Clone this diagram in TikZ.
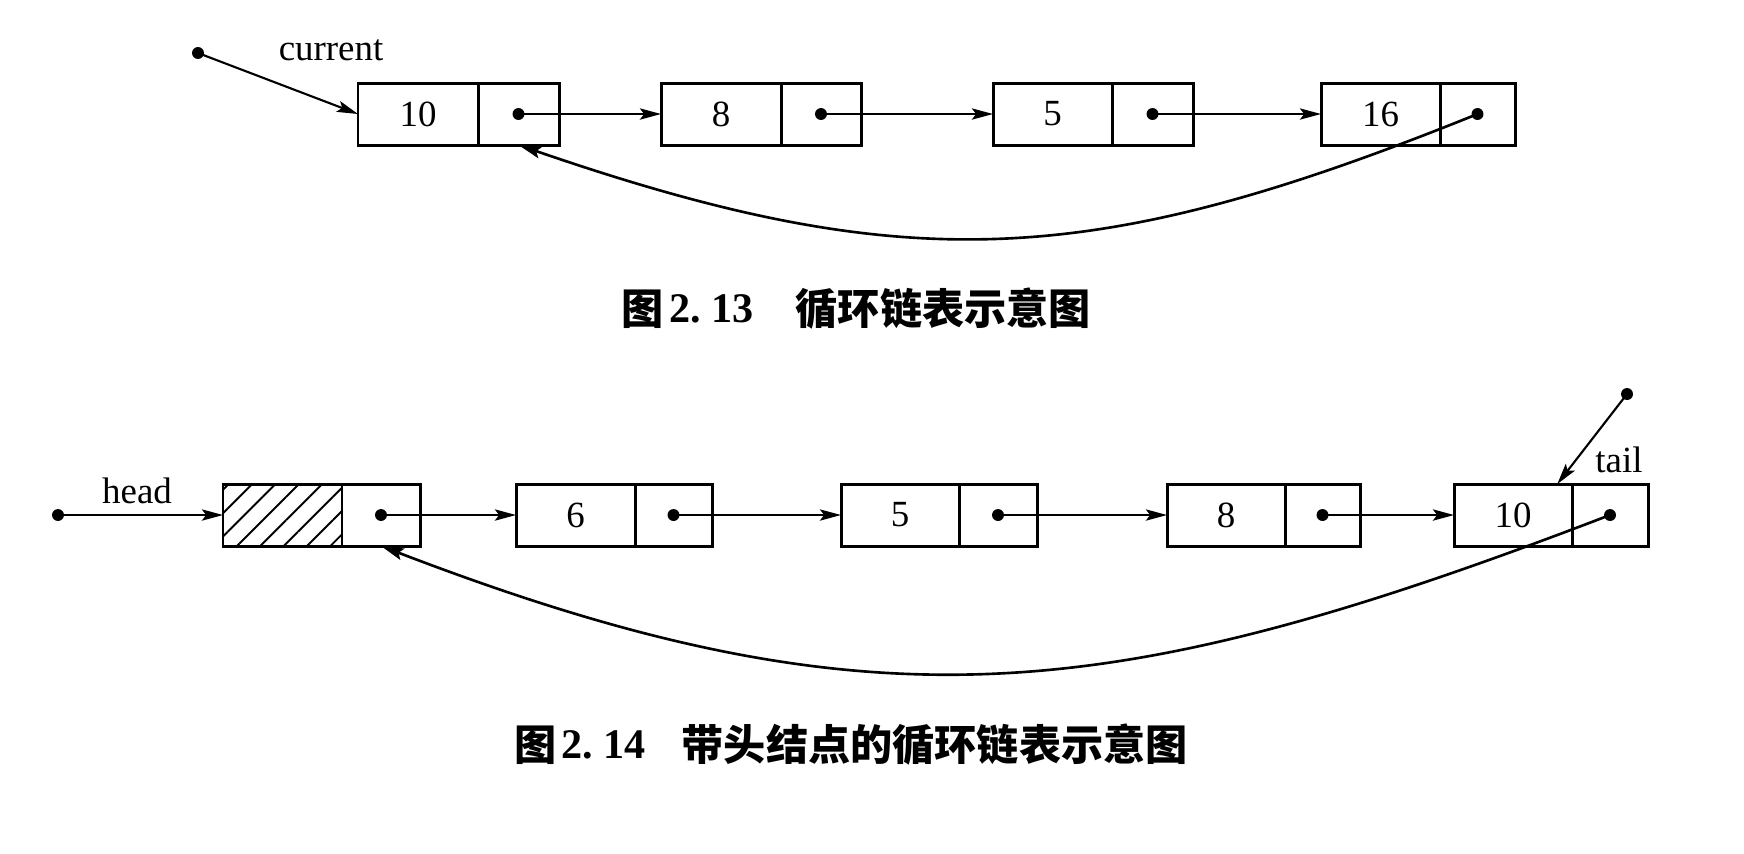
\documentclass[tikz,border=0pt]{standalone}
\usepackage{fontspec}
\setmainfont{Liberation Serif}
\newfontfamily\cjk{Noto Sans CJK SC}
\usetikzlibrary{arrows.meta,patterns.meta}
\tikzset{
  cellbox/.style={draw, line width=0.85pt, minimum height=0.62cm, inner sep=0pt, outer sep=0pt, font=\fontsize{10.5pt}{12pt}\selectfont},
  arr/.style={line width=0.6pt, -{Stealth[length=6pt,width=3.2pt,inset=1.2pt]}},
  backarc/.style={line width=0.75pt, -{Stealth[length=6.5pt,width=3.4pt,inset=1.2pt]}},
  ptrdot/.style={fill=black},
  lbl/.style={font=\fontsize{10.5pt}{12pt}\selectfont, inner sep=0pt, anchor=base},
  captext/.style={inner sep=0pt, anchor=west, font=\fontsize{12pt}{14pt}\selectfont\bfseries},
  hatch/.style={pattern={Lines[angle=45,distance=4.7pt,line width=0.55pt]}}
}
\begin{document}
\begin{tikzpicture}
\useasboundingbox (0,0) rectangle (17.44,-8.53);

% ---------- Figure 2.13 ----------
\node[cellbox, minimum width=1.20cm] (a1v) at (4.18,-1.14) {10};
\node[cellbox, minimum width=0.81cm] (a1p) at (5.185,-1.14) {};
\node[cellbox, minimum width=1.20cm] (a2v) at (7.21,-1.14) {8};
\node[cellbox, minimum width=0.80cm] (a2p) at (8.21,-1.14) {};
\node[cellbox, minimum width=1.19cm] (a3v) at (10.525,-1.14) {5};
\node[cellbox, minimum width=0.81cm] (a3p) at (11.525,-1.14) {};
\node[cellbox, minimum width=1.19cm] (a4v) at (13.805,-1.14) {16};
\node[cellbox, minimum width=0.75cm] (a4p) at (14.775,-1.14) {};

\coordinate (cur) at (1.98,-0.53);
\node[lbl] (curlbl) at (3.31,-0.60) {current};
\draw[arr] (cur) -- (a1v.west);
\fill[ptrdot] (cur) circle (1.7pt);

\draw[arr] (a1p.center) -- (a2v.west);
\draw[arr] (a2p.center) -- (a3v.west);
\draw[arr] (a3p.center) -- (a4v.west);
\draw[backarc] (a4p.center) to[out=202,in=-19,looseness=1.1] (a1p.south);
\foreach \p in {a1p,a2p,a3p,a4p} \fill[ptrdot] (\p.center) circle (1.7pt);

\node[captext] (c1a) at (6.21,-3.09) {\cjk 图};
\node[captext] (c1b) at (6.69,-3.09) {2.\hspace{3pt}13};
\node[captext] (c1c) at (7.95,-3.09) {\cjk 循环链表示意图};

% ---------- Figure 2.14 ----------
\node[cellbox, minimum width=1.19cm] (b0v) at (2.825,-5.15) {};
\fill[hatch] (b0v.south west) rectangle (b0v.north east);
\node[cellbox, minimum width=1.19cm] (b0frame) at (2.825,-5.15) {};
\node[cellbox, minimum width=0.78cm] (b0p) at (3.81,-5.15) {};
\node[cellbox, minimum width=1.19cm] (b1v) at (5.755,-5.15) {6};
\node[cellbox, minimum width=0.77cm] (b1p) at (6.735,-5.15) {};
\node[cellbox, minimum width=1.18cm] (b2v) at (9.00,-5.15) {5};
\node[cellbox, minimum width=0.78cm] (b2p) at (9.98,-5.15) {};
\node[cellbox, minimum width=1.18cm] (b3v) at (12.26,-5.15) {8};
\node[cellbox, minimum width=0.75cm] (b3p) at (13.225,-5.15) {};
\node[cellbox, minimum width=1.18cm] (b4v) at (15.13,-5.15) {10};
\node[cellbox, minimum width=0.76cm] (b4p) at (16.10,-5.15) {};

\coordinate (hd) at (0.58,-5.15);
\node[lbl] (hdlbl) at (1.37,-5.03) {head};
\draw[arr] (hd) -- (b0v.west);
\fill[ptrdot] (hd) circle (1.7pt);

\coordinate (tl) at (16.27,-3.94);
\node[lbl] (tllbl) at (16.19,-4.72) {tail};
\draw[arr] (tl) -- (b4v.35);
\fill[ptrdot] (tl) circle (1.7pt);

\draw[arr] (b0p.center) -- (b1v.west);
\draw[arr] (b1p.center) -- (b2v.west);
\draw[arr] (b2p.center) -- (b3v.west);
\draw[arr] (b3p.center) -- (b4v.west);
\draw[backarc] (b4p.center) to[out=201,in=-21,looseness=1.1] (b0p.south);
\foreach \p in {b0p,b1p,b2p,b3p,b4p} \fill[ptrdot] (\p.center) circle (1.7pt);

\node[captext] (c2a) at (5.14,-7.45) {\cjk 图};
\node[captext] (c2b) at (5.61,-7.45) {2.\hspace{3pt}14};
\node[captext] (c2c) at (6.81,-7.45) {\cjk 带头结点的循环链表示意图};
\end{tikzpicture}
\end{document}
